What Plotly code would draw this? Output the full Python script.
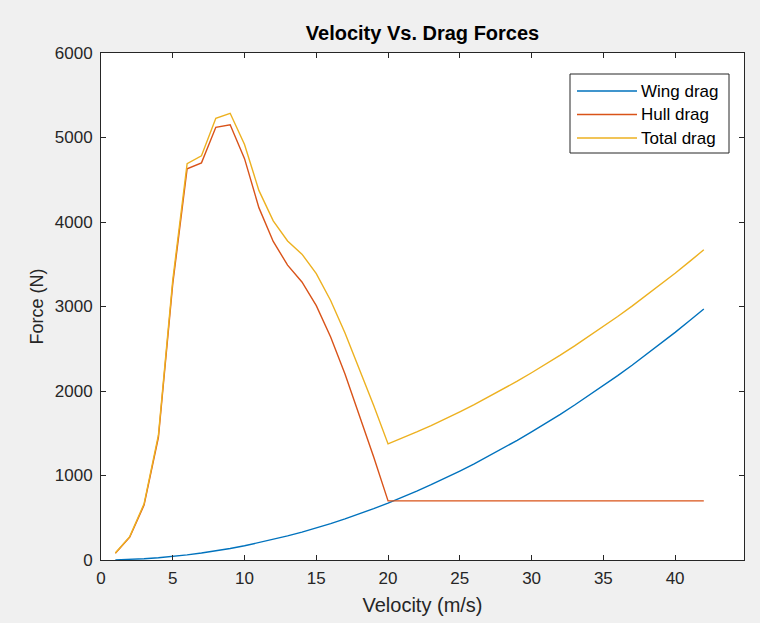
import plotly.graph_objects as go

# Velocity samples (m/s)
velocity = list(range(1, 43))

# Drag force components (N)
wing_drag = [2, 7, 15, 27, 42, 61, 83, 108, 136, 168, 204, 243, 285, 330,
             379, 431, 487, 546, 608, 674, 743, 815, 891, 970, 1053, 1138,
             1228, 1320, 1416, 1516, 1618, 1724, 1834, 1947, 2063, 2182,
             2305, 2432, 2561, 2694, 2831, 2971]
hull_drag = [80, 270, 650, 1450, 3270, 4630, 4700, 5120, 5150, 4750, 4170,
             3770, 3490, 3290, 3010, 2640, 2200, 1720, 1220, 700, 700, 700,
             700, 700, 700, 700, 700, 700, 700, 700, 700, 700, 700, 700, 700,
             700, 700, 700, 700, 700, 700, 700]
total_drag = [82, 277, 665, 1477, 3312, 4691, 4783, 5228, 5286, 4918, 4374,
              4013, 3775, 3620, 3389, 3071, 2687, 2266, 1828, 1374, 1443, 1515,
              1591, 1670, 1753, 1838, 1928, 2020, 2116, 2216, 2318, 2424, 2534,
              2647, 2763, 2882, 3005, 3132, 3261, 3394, 3531, 3671]

series_names = ["Wing drag", "Hull drag", "Total drag"]
series_colors = ["#0072BD", "#D95319", "#EDB120"]
series_values = [wing_drag, hull_drag, total_drag]

FONT = "Liberation Sans, Arial, Helvetica, sans-serif"
INK = "#262626"

W, H = 760, 623
ML, MR, MT, MB = 101, 16, 53, 63
PW, PH = W - ML - MR, H - MT - MB


def px_x(px):
    """Horizontal pixel position -> paper fraction of the plot area."""
    return (px - ML) / PW


def px_y(py):
    """Vertical pixel position -> paper fraction of the plot area."""
    return (H - MB - py) / PH


fig = go.Figure()
for name, vals, color in zip(series_names, series_values, series_colors):
    fig.add_trace(go.Scatter(x=velocity, y=vals, mode="lines", name=name,
                             showlegend=False,
                             line=dict(color=color, width=1.4)))

axis_common = dict(
    showgrid=False, zeroline=False, showline=True, linecolor=INK, linewidth=1,
    mirror="ticks", ticks="inside", ticklen=5, tickcolor=INK,
    tickfont=dict(family=FONT, size=17, color=INK),
)

# Boxed legend in the upper-right corner with long line samples
shapes = [dict(type="rect", xref="paper", yref="paper",
               x0=px_x(570), x1=px_x(729), y0=px_y(153), y1=px_y(74),
               line=dict(color=INK, width=1), fillcolor="white", layer="above")]
annotations = []
for i, (name, color) in enumerate(zip(series_names, series_colors)):
    yrow = 91 + i * 23.5
    shapes.append(dict(type="line", xref="paper", yref="paper",
                       x0=px_x(577), x1=px_x(637), y0=px_y(yrow), y1=px_y(yrow),
                       line=dict(color=color, width=1.4), layer="above"))
    annotations.append(dict(text=name, xref="paper", yref="paper",
                            x=px_x(639), y=px_y(yrow), xanchor="left",
                            yanchor="middle", showarrow=False,
                            font=dict(family=FONT, size=17, color="black")))

fig.update_layout(
    width=W, height=H,
    paper_bgcolor="#f0f0f0", plot_bgcolor="white",
    margin=dict(l=ML, r=MR, t=MT, b=MB),
    title=dict(text="<b>Velocity Vs. Drag Forces</b>", x=0.5, xref="paper",
               y=(H - 33) / H, yanchor="middle", xanchor="center",
               font=dict(family=FONT, size=20, color="black")),
    xaxis=dict(range=[0, 44.8], dtick=5, tick0=0, ticklabelstandoff=3,
               title=dict(text="Velocity (m/s)", standoff=10,
                          font=dict(family=FONT, size=20, color=INK)),
               **axis_common),
    yaxis=dict(range=[0, 6000], dtick=1000, tick0=0, ticklabelstandoff=4,
               title=dict(text="Force (N)", standoff=6,
                          font=dict(family=FONT, size=18, color=INK)),
               **axis_common),
    shapes=shapes,
    annotations=annotations,
    showlegend=False,
)

fig.write_html("out.html")
